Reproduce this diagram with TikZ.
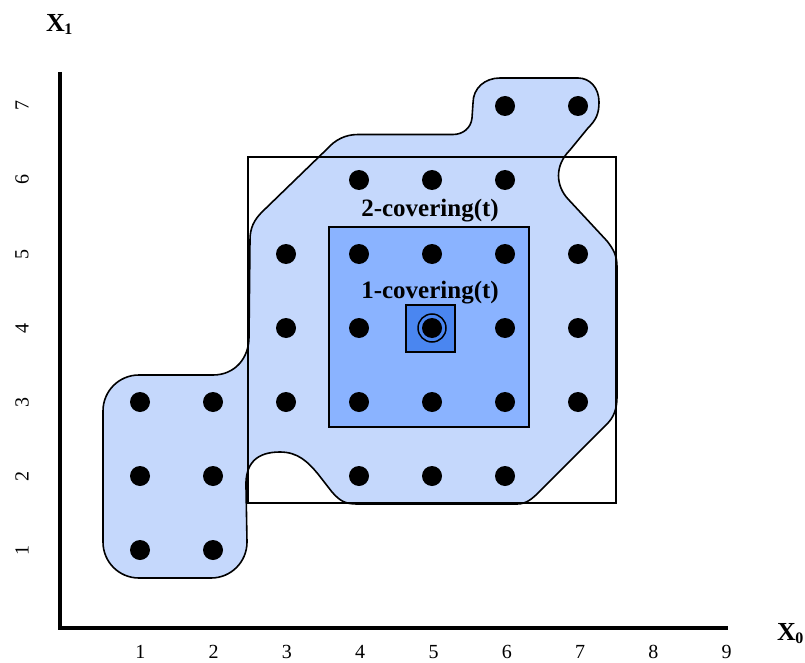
\documentclass[tikz,border=0pt]{standalone}
\usepackage{fontspec}
\setmainfont{Liberation Serif}
\usepackage{tikz}
\usepackage{xcolor}
\usetikzlibrary{positioning}
\definecolor{coverPale}{RGB}{197,216,252}
\definecolor{coverMid}{RGB}{138,179,255}
\definecolor{coverDeep}{RGB}{74,134,240}

\begin{document}
\begin{tikzpicture}[x=1pt, y=-1pt,
      dot/.style={circle, fill=black, inner sep=0pt, minimum size=20pt},
      ticklabel/.style={font=\fontsize{20}{22}\selectfont, inner sep=0pt},
      axislabel/.style={font=\fontsize{26}{28}\selectfont\bfseries, inner sep=0pt},
      coverlabel/.style={font=\fontsize{25}{28}\selectfont\bfseries},
      region/.style={draw=black, line width=1.6pt}
    ]
    \useasboundingbox (0,0) rectangle (805,663);

    % reachable area
    \draw[region, fill=coverPale] (180,375)
      -- (139,375) .. controls (119,375) and (103,391) .. (103,411)
      -- (103,542) .. controls (103,562) and (119,578) .. (139,578)
      -- (211,578) .. controls (231,578) and (247,562) .. (247,542)
      -- (246,487)
      .. controls (245,462) and (258,452) .. (280,452)
      .. controls (298,452) and (308,462) .. (318,474)
      -- (332,492)
      .. controls (340,501) and (345,504) .. (357,504)
      -- (517,504)
      .. controls (527,504) and (533,498) .. (540,491)
      -- (607,424)
      .. controls (613,418) and (617,410) .. (617,397)
      -- (617,267)
      .. controls (617,256) and (614,250) .. (607,241)
      -- (568,199)
      .. controls (556,186) and (554,166) .. (570,150)
      -- (588,128)
      .. controls (596,120) and (599,114) .. (599,102)
      .. controls (599,88) and (590,78) .. (578,78)
      -- (500,78)
      .. controls (485,78) and (473,88) .. (473,103)
      -- (472,118)
      .. controls (471,128) and (463,134.5) .. (453,134.5)
      -- (358,134.5)
      .. controls (345,134.5) and (335,140) .. (327,149)
      -- (262,212)
      .. controls (254,220) and (250,228) .. (250,240)
      -- (249,337)
      .. controls (249,358) and (235,375) .. (213,375)
      -- cycle;

    \draw[line width=1.4pt] (248,157) rectangle (616,503);
    \draw[region, fill=coverMid] (329,227) rectangle (529,427);
    \draw[region, fill=coverDeep] (406,305) rectangle (455,352);

    % axes
    \draw[line width=3.4pt] (60,72) -- (60,628) -- (728,628);
    \node[axislabel, anchor=base west] (xone) at (46,32) {X\kern-0.5pt\raisebox{-3pt}{\fontsize{16}{16}\selectfont 1}};
    \node[axislabel, anchor=base west] (xzero) at (777,640) {X\kern-0.5pt\raisebox{-3pt}{\fontsize{16}{16}\selectfont 0}};
    \foreach \k in {1,...,9}
      \node[ticklabel, anchor=base] (xt\k) at ({67+73.3*\k},658) {\k};
    \foreach \k in {1,...,7}
      \node[ticklabel, rotate=90] (yt\k) at (22,{624-74*\k}) {\k};

    % points
    \foreach \c/\r in {6/7,7/7, 4/6,5/6,6/6, 3/5,4/5,5/5,6/5,7/5, 3/4,4/4,5/4,6/4,7/4,
                       1/3,2/3,3/3,4/3,5/3,6/3,7/3, 1/2,2/2,4/2,5/2,6/2, 1/1,2/1}
      \node[dot] (p\c\r) at ({67+73*\c},{624-74*\r}) {};
    \draw[line width=1.5pt] (p54.center) circle (14pt);

    \node[coverlabel] (two) at (430,211) {2-covering(t)};
    \node[coverlabel] (one) at (430,293) {1-covering(t)};
  \end{tikzpicture}
\end{document}
